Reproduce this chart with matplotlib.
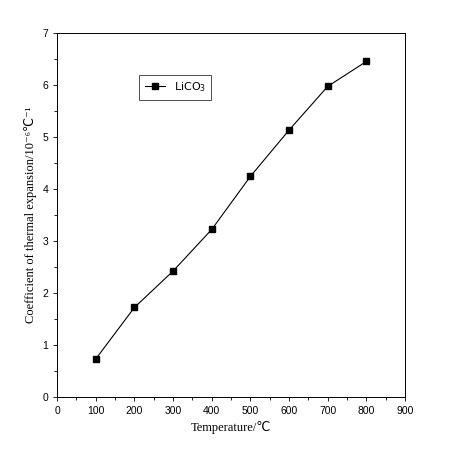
import matplotlib
matplotlib.use("Agg")
import matplotlib.pyplot as plt
from matplotlib.ticker import MultipleLocator

temps = [100, 200, 300, 400, 500, 600, 700, 800]
cte = [0.73, 1.72, 2.42, 3.22, 4.24, 5.13, 5.97, 6.45]

fig = plt.figure(figsize=(4.5, 4.5), dpi=100)
ax = fig.add_axes([0.127, 0.118, 0.773, 0.809])
ax.plot(temps, cte, color='black', lw=0.8, marker='s', ms=5, label='LiCO$_3$')
ax.set_xlim(0, 900)
ax.set_ylim(0, 7)
ax.xaxis.set_major_locator(MultipleLocator(100))
ax.xaxis.set_minor_locator(MultipleLocator(50))
ax.yaxis.set_major_locator(MultipleLocator(1))
ax.yaxis.set_minor_locator(MultipleLocator(0.5))
ax.tick_params(which='both', direction='out', labelsize=7.5, width=0.6)
ax.tick_params(which='major', length=3)
ax.tick_params(which='minor', length=2)
for t in ax.get_xticklabels() + ax.get_yticklabels():
    t.set_family('Liberation Sans')
for s in ax.spines.values():
    s.set_linewidth(0.7)
ax.set_xlabel('Temperature/℃', family=['Liberation Serif', 'DejaVu Sans'], fontsize=9)
ax.set_ylabel('Coefficient of thermal expansion/10⁻⁶℃⁻¹', family=['Liberation Serif', 'DejaVu Sans'], fontsize=9)
leg = ax.legend(loc='upper left', bbox_to_anchor=(0.22, 0.9), fontsize=8, fancybox=False,
                edgecolor='black', handlelength=1.8, borderpad=0.5)
leg.get_frame().set_linewidth(0.6)
fig.savefig('out.png', dpi=100)
